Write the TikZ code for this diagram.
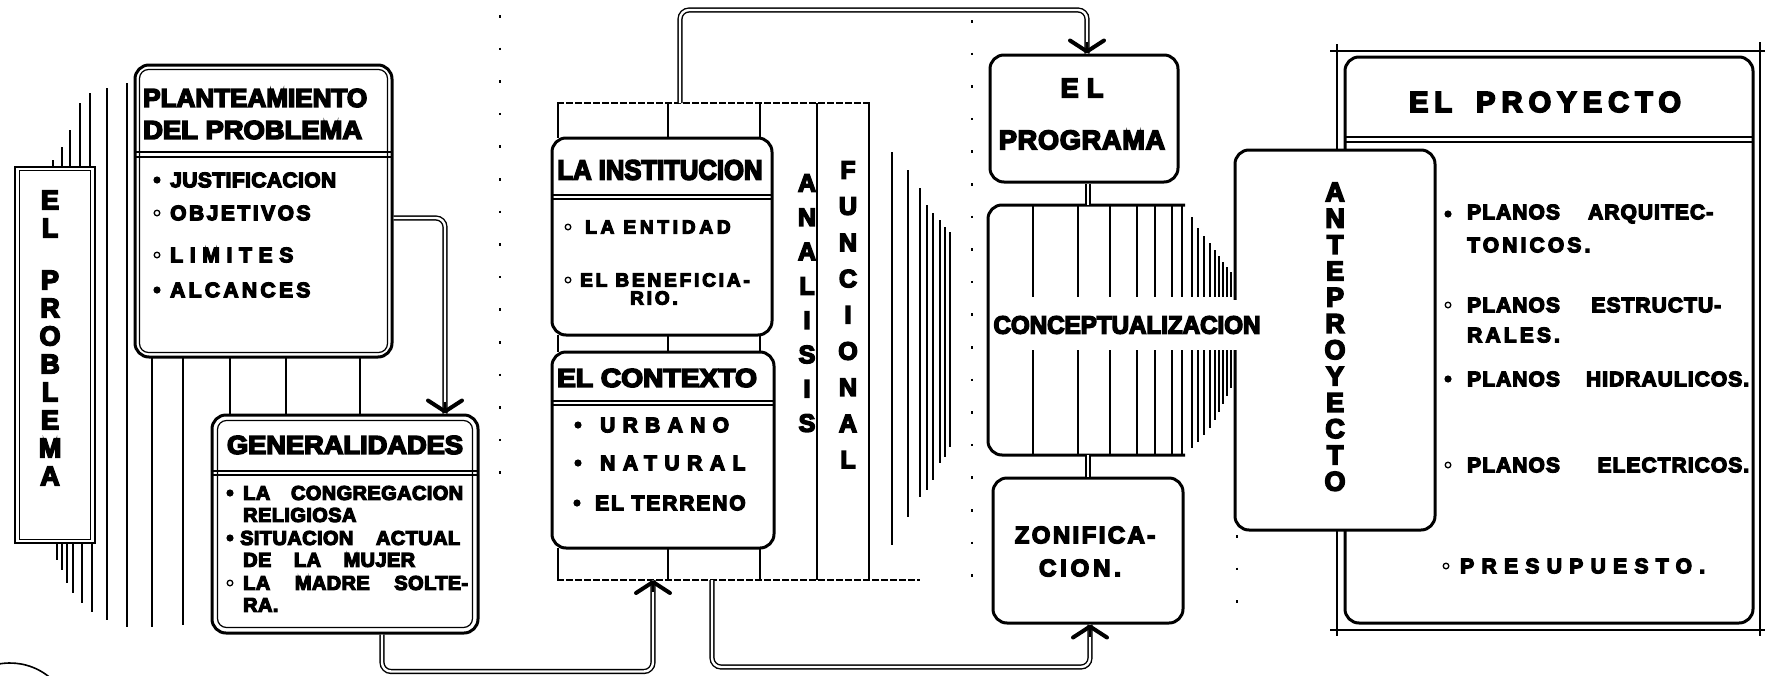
\documentclass[tikz,border=0pt]{standalone}
\usepackage{fontspec}
\setmainfont{Liberation Sans}[BoldFeatures={FakeBold=6}]
\usepackage{graphicx}
\usetikzlibrary{arrows.meta}

\newcommand{\tam}[1]{\bfseries\fontsize{#1}{#1}\selectfont}
\newcommand{\esp}[1]{\addfontfeature{LetterSpace=#1}}
\newcommand{\ancho}[2]{\resizebox{#1}{\height}{#2}}

\tikzset{
  caja/.style={draw, line width=3pt, rounded corners=14pt, fill=white, inner sep=0pt},
  fina/.style={line width=1.2pt},
  media/.style={line width=2pt},
  tubo/.style={draw, double, line width=1.4pt, double distance=2.4pt, rounded corners=9pt},
  punta/.style={line width=1.4pt, -{Straight Barb[round, length=11pt, width=34pt, line width=4pt]}},
  texto/.style={inner sep=0pt},
  lleno/.style={fill=black},
  hueco/.style={draw, line width=1.3pt},
  raya/.style={line width=1.2pt, dash pattern=on 7pt off 2pt},
  puntos/.style={line width=2.6pt, dash pattern=on 2.6pt off 30pt},
}

\begin{document}
\begin{tikzpicture}[x=1pt, y=-1pt]
  \fill[white] (0,0) rectangle (1765,675);
  \useasboundingbox (0,0) rectangle (1765,675);

  % rayado del problema
  \foreach \xx/\yy in {53/160, 62/147, 70/130, 80/103, 90/93}
    \draw[fina] (\xx,\yy) -- (\xx,167);
  \foreach \xx/\yy in {57/560, 62/570, 67/583, 73/593, 82/603, 92/612}
    \draw[fina] (\xx,543) -- (\xx,\yy);
  \draw[fina] (107,88) -- (107,620);
  \draw[media] (127,83) -- (127,627);
  \draw[fina] (152,357) -- (152,627);
  \draw[fina] (183,357) -- (183,625);
  \foreach \xx in {230,286,360}
    \draw[fina] (\xx,357) -- (\xx,415);

  \draw[puntos] (500,15) -- (500,500);
  \draw[puntos] (972,20) -- (972,600);
  \draw[puntos] (1237,535) -- (1237,625);

  % marco del analisis funcional
  \node[inner sep=0pt, outer sep=0pt, minimum width=313pt, minimum height=477pt] (marco) at (713.5,341.5) {};
  \draw[raya] (marco.north west) -- (marco.north east);
  \draw[raya] (marco.south west) -- ([xshift=50pt]marco.south east);
  \foreach \xx in {558,668,760} {
    \draw[fina] (\xx,103) -- (\xx,138);
    \draw[fina] (\xx,335) -- (\xx,352);
    \draw[fina] (\xx,548) -- (\xx,580);
  }
  \draw[fina] (817,103) -- (817,580);
  \draw[fina] (869,103) -- (869,580);
  \foreach \xx/\ya/\yb in {892/152/545, 908/170/517, 920/188/497, 927/205/490, 933/213/480, 940/220/463, 945/227/457, 950/232/447}
    \draw[fina] (\xx,\ya) -- (\xx,\yb);

  % el problema
  \node[draw, line width=2.5pt, fill=white, inner sep=0pt, minimum width=80pt, minimum height=376pt] (prob) at (55,355) {};
  \draw[fina] ([shift={(6pt,-5pt)}]prob.north west) rectangle ([shift={(-6pt,5pt)}]prob.south east);
  \foreach \l/\yy [count=\i] in {E/200, L/228, P/280, R/308, O/336, B/364, L/392, E/420, M/448, A/476}
    \node[texto, font=\tam{27}] (prob-\i) at (50,\yy) {\l};

  % planteamiento
  \node[caja, minimum width=257pt, minimum height=292pt] (plan) at (263.5,211) {};
  \draw[fina, rounded corners=9pt] ([shift={(6pt,-6pt)}]plan.north west) rectangle ([shift={(-6pt,6pt)}]plan.south east);
  \draw[fina] (135,152) -- (392,152);
  \draw[fina] (135,157) -- (392,157);
  \node[texto, anchor=west, font=\tam{26}] (plan-t1) at (143,98) {\ancho{224pt}{PLANTEAMIENTO}};
  \node[texto, anchor=west, font=\tam{26}] (plan-t2) at (143,130) {\ancho{219pt}{DEL PROBLEMA}};
  \node[texto, anchor=west, font=\tam{21}] (plan-i1) at (170,180) {\esp{2}JUSTIFICACION};
  \node[texto, anchor=west, font=\tam{21}] (plan-i2) at (170,213) {\esp{12}OBJETIVOS};
  \node[texto, anchor=west, font=\tam{21}] (plan-i3) at (170,255) {\esp{32}LIMITES};
  \node[texto, anchor=west, font=\tam{21}] (plan-i4) at (170,290) {\esp{16}ALCANCES};
  \fill[lleno] (157,180) circle (3.6);
  \draw[hueco] (157,213) circle (2.8);
  \draw[hueco] (157,255) circle (2.8);
  \fill[lleno] (157,290) circle (3.6);

  % generalidades
  \node[caja, minimum width=266pt, minimum height=218pt] (gen) at (345,524) {};
  \draw[fina, rounded corners=9pt] ([shift={(7pt,-7pt)}]gen.north west) rectangle ([shift={(-7pt,7pt)}]gen.south east);
  \draw[fina] (212,471) -- (478,471);
  \draw[fina] (212,475) -- (478,475);
  \node[texto, font=\tam{26}] (gen-t) at (345,445) {\ancho{236pt}{GENERALIDADES}};
  \node[texto, anchor=west, font=\tam{20}] (gen-i1) at (243,493) {\esp{2}\makebox[220pt][s]{LA CONGREGACION}};
  \node[texto, anchor=west, font=\tam{20}] (gen-i2) at (243,515) {\esp{2}RELIGIOSA};
  \node[texto, anchor=west, font=\tam{20}] (gen-i3) at (240,538) {\esp{2}\makebox[220pt][s]{SITUACION ACTUAL}};
  \node[texto, anchor=west, font=\tam{20}] (gen-i4) at (243,560) {\esp{2}\makebox[172pt][s]{DE LA MUJER}};
  \node[texto, anchor=west, font=\tam{20}] (gen-i5) at (243,583) {\esp{2}\makebox[225pt][s]{LA MADRE SOLTE-}};
  \node[texto, anchor=west, font=\tam{20}] (gen-i6) at (243,605) {\esp{2}RA.};
  \fill[lleno] (230,493) circle (3.6);
  \fill[lleno] (230,538) circle (3.6);
  \draw[hueco] (230,583) circle (2.8);

  % la institucion
  \node[caja, minimum width=220pt, minimum height=197pt] (inst) at (662,236.5) {};
  \draw[fina] (552,195) -- (772,195);
  \draw[fina] (552,199) -- (772,199);
  \node[texto, font=\tam{28}] (inst-t) at (660,170) {\ancho{205pt}{LA INSTITUCION}};
  \node[texto, anchor=west, font=\tam{19}] (inst-i1) at (585,227) {\esp{20}LA ENTIDAD};
  \node[texto, anchor=west, font=\tam{19}] (inst-i2) at (580,280) {\esp{15}EL BENEFICIA-};
  \node[texto, anchor=west, font=\tam{19}] (inst-i3) at (630,298) {\esp{15}RIO.};
  \draw[hueco] (568,227) circle (2.8);
  \draw[hueco] (568,280) circle (2.8);

  % el contexto
  \node[caja, minimum width=222pt, minimum height=196pt] (cont) at (663,450) {};
  \draw[fina] (552,401) -- (774,401);
  \draw[fina] (552,405) -- (774,405);
  \node[texto, font=\tam{26}] (cont-t) at (657,378) {\ancho{200pt}{EL CONTEXTO}};
  \node[texto, anchor=west, font=\tam{21}] (cont-i1) at (600,425) {\esp{35}URBANO};
  \node[texto, anchor=west, font=\tam{21}] (cont-i2) at (600,463) {\esp{36}NATURAL};
  \node[texto, anchor=west, font=\tam{21}] (cont-i3) at (595,503) {\esp{9}EL TERRENO};
  \fill[lleno] (578,425) circle (3.6);
  \fill[lleno] (578,463) circle (3.6);
  \fill[lleno] (577,503) circle (3.6);

  \foreach \l [count=\i from 0] in {A,N,A,L,I,S,I,S}
    \node[texto, font=\tam{25}] (anal-\i) at (807,183+34.3*\i) {\l};
  \foreach \l [count=\i from 0] in {F,U,N,C,I,O,N,A,L}
    \node[texto, font=\tam{25}] (func-\i) at (848,170+36.2*\i) {\l};

  % el proyecto
  \draw[fina] (1330,51) -- (1765,51);
  \draw[fina] (1330,630) -- (1765,630);
  \draw[fina] (1337,44) -- (1337,636);
  \draw[fina] (1760,42) -- (1760,636);
  \node[caja, minimum width=408pt, minimum height=566pt] (proy) at (1549,340) {};
  \draw[fina] (1345,137) -- (1753,137);
  \draw[fina] (1345,142) -- (1753,142);
  \node[texto, font=\tam{29}] (proy-t) at (1545,102) {\esp{21}EL\hspace{24pt}PROYECTO};
  \node[texto, anchor=west, font=\tam{21}] (proy-i1) at (1467,214) {\esp{5}\makebox[246pt][s]{PLANOS ARQUITEC-}};
  \node[texto, anchor=west, font=\tam{21}] (proy-i2) at (1467,245) {\esp{15}TONICOS.};
  \node[texto, anchor=west, font=\tam{21}] (proy-i3) at (1467,305) {\esp{5}\makebox[254pt][s]{PLANOS ESTRUCTU-}};
  \node[texto, anchor=west, font=\tam{21}] (proy-i4) at (1467,335) {\esp{15}RALES.};
  \node[texto, anchor=west, font=\tam{21}] (proy-i5) at (1467,379) {\esp{5}\makebox[282pt][s]{PLANOS HIDRAULICOS.}};
  \node[texto, anchor=west, font=\tam{21}] (proy-i6) at (1467,465) {\esp{5}\makebox[282pt][s]{PLANOS ELECTRICOS.}};
  \node[texto, anchor=west, font=\tam{21}] (proy-i7) at (1460,566) {\esp{35}PRESUPUESTO.};
  \fill[lleno] (1448,214) circle (3.6);
  \draw[hueco] (1448,305) circle (2.8);
  \fill[lleno] (1448,379) circle (3.6);
  \draw[hueco] (1448,465) circle (2.8);
  \draw[hueco] (1446,566) circle (2.8);

  % anteproyecto
  \node[caja, minimum width=200pt, minimum height=380pt] (ante) at (1335,340) {};
  \foreach \l [count=\i from 0] in {A,N,T,E,P,R,O,Y,E,C,T,O}
    \node[texto, font=\tam{27}] (ante-\i) at (1335,192+26.3*\i) {\l};

  % programa, conceptualizacion, zonificacion
  \node[caja, minimum width=188pt, minimum height=127pt] (prog) at (1084,118.5) {};
  \node[texto, font=\tam{27}] (prog-t1) at (1082,88) {\esp{30}EL};
  \node[texto, font=\tam{27}] (prog-t2) at (1082,140) {\esp{3}PROGRAMA};

  \node[inner sep=0pt, outer sep=0pt, minimum width=197pt, minimum height=250pt] (conc) at (1086.5,330) {};
  \draw[line width=3pt, rounded corners=14pt] (conc.north east) -- (conc.north west) -- (conc.south west) -- (conc.south east);
  \foreach \xx in {1033,1078,1110,1137,1155,1172,1182} {
    \draw[fina] (\xx,205) -- (\xx,297);
    \draw[fina] (\xx,350) -- (\xx,455);
  }
  \foreach \xx/\ya/\yb in {1192/217/448, 1198/228/442, 1204/236/435, 1210/243/428, 1215/250/420, 1219/256/412, 1223/262/404, 1227/267/396, 1231/272/388} {
    \draw[fina] (\xx,\ya) -- (\xx,297);
    \draw[fina] (\xx,350) -- (\xx,\yb);
  }
  \node[texto, fill=white, minimum height=50pt, font=\tam{25}] (conc-t) at (1127,325) {\ancho{267pt}{CONCEPTUALIZACION}};

  \node[caja, minimum width=190pt, minimum height=145pt] (zoni) at (1088,550.5) {};
  \node[texto, font=\tam{24}] (zoni-t1) at (1085,535) {\esp{10}ZONIFICA-};
  \node[texto, font=\tam{24}] (zoni-t2) at (1080,568) {\esp{16}CION.};

  % conectores
  \draw[tubo] ([yshift=-7pt]plan.east) -| ([xshift=100pt]gen.north);
  \draw[punta] ([xshift=100pt,yshift=12pt]gen.north) -- ([xshift=100pt]gen.north);
  \draw[tubo] ([xshift=37pt]gen.south) -- ++(0,37) -| ([xshift=-60.5pt]marco.south);
  \draw[punta] ([xshift=-60.5pt,yshift=-12pt]marco.south) -- ([xshift=-60.5pt]marco.south);
  \draw[tubo] ([xshift=-33.5pt]marco.north) -- ++(0,-93) -| ([xshift=3pt]prog.north);
  \draw[punta] ([xshift=3pt,yshift=12pt]prog.north) -- ([xshift=3pt]prog.north);
  \draw[tubo] ([xshift=-1.5pt]marco.south) -- ++(0,87) -| ([xshift=2pt]zoni.south);
  \draw[punta] ([xshift=2pt,yshift=-12pt]zoni.south) -- ([xshift=2pt]zoni.south);
  \draw[tubo] ([xshift=4pt]prog.south) -- ([xshift=4pt]prog.south |- conc.north);
  \draw[tubo] ([xshift=1.5pt]conc.south) -- ([xshift=1.5pt]conc.south |- zoni.north);

  \draw[line width=1.6pt] (10,725) ++(230:62) arc[start angle=230, end angle=320, radius=62];
\end{tikzpicture}
\end{document}
